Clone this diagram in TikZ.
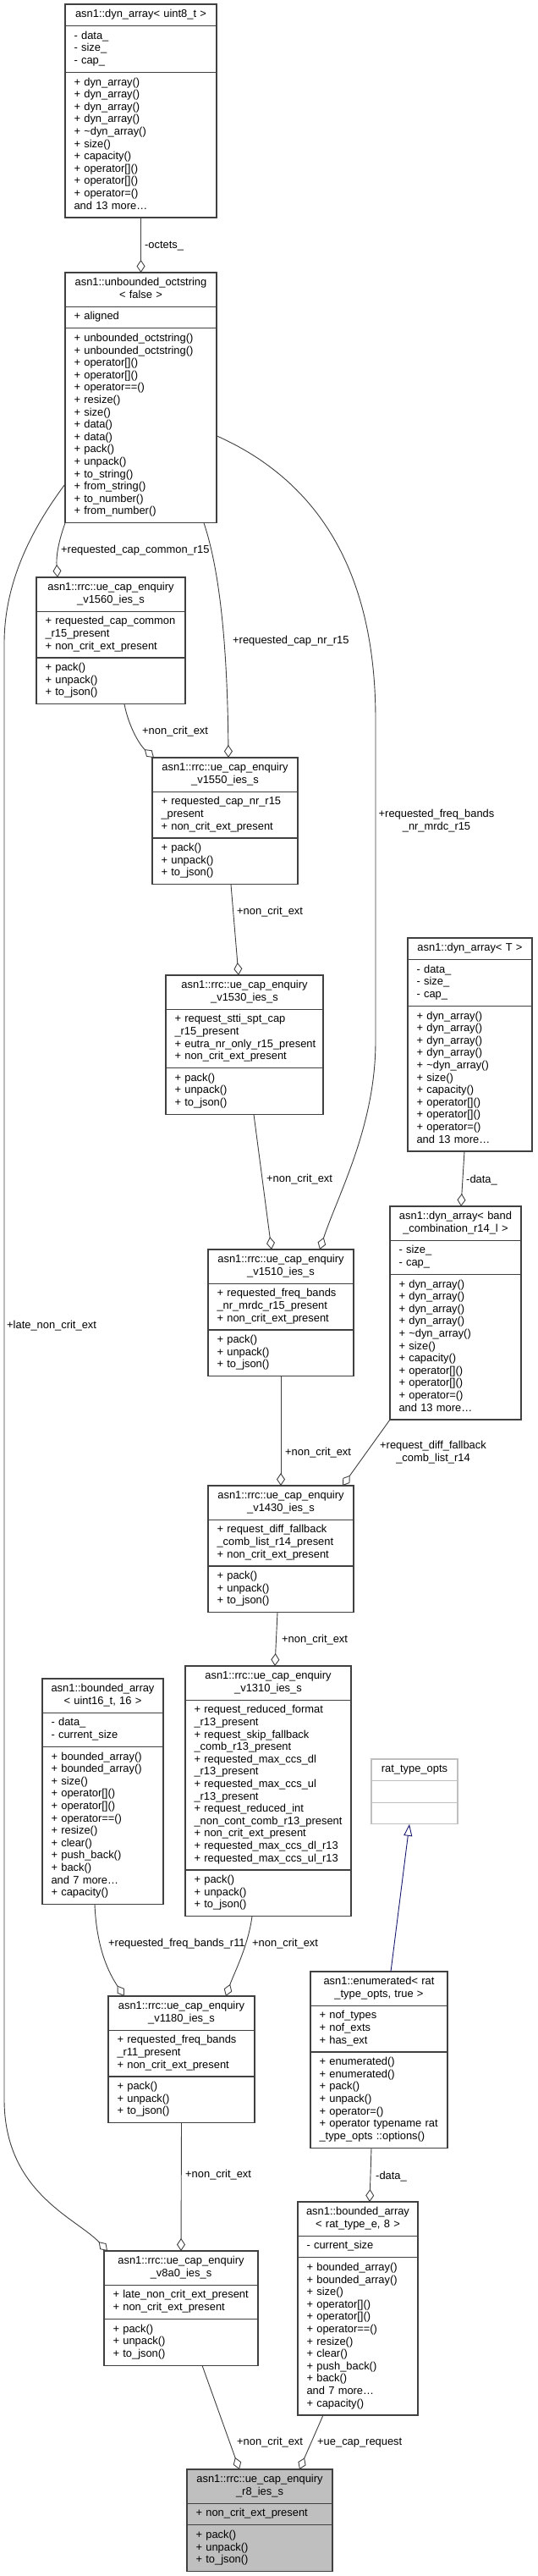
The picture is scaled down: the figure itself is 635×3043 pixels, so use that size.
\documentclass[tikz,border=0pt]{standalone}
\usepackage{fontspec}
\setmainfont{Liberation Sans}
\usetikzlibrary{arrows.meta}
\definecolor{edgegray}{HTML}{404040}
\definecolor{boxgray}{HTML}{BFBFBF}
\definecolor{ratgray}{HTML}{BFBFBF}
\definecolor{midblue}{HTML}{191970}
\newcommand{\fsz}{\fontsize{12.9}{14.6}\selectfont\hyphenpenalty=10000\exhyphenpenalty=10000\hbadness=10000\hfuzz=20pt}
\tikzset{
  clsbox/.style={draw=edgegray, line width=1.1pt, fill=white, rectangle, anchor=north west,
    outer sep=0pt, inner xsep=10.5pt, inner ysep=5.5pt, font=\fsz,
    execute at begin node=\strut, execute at end node=\strut},
  aggr/.style={draw=edgegray, line width=0.9pt, -{Diamond[open, length=15pt, width=10pt]}},
  inherit/.style={draw=midblue, line width=0.9pt, -{Triangle[open, length=14pt, width=10pt]}},
  lbl/.style={font=\fsz, inner sep=0pt, anchor=base west},
  lblc/.style={font=\fsz, inner sep=0pt, anchor=center, align=center},
}
\newcommand{\umlclass}[8][]{%
  \pgfmathsetlengthmacro{\umltw}{#5-10}%
  \pgfmathsetlengthmacro{\umlbw}{#5-21}%
  \node[clsbox, #1, inner xsep=5pt, align=center, text width=\umltw] (#2) at (#3,#4) {#6};
  \node[clsbox, #1, align=left, text width=\umlbw] (#2a) at (#2.south west) {#7};
  \node[clsbox, #1, align=left, text width=\umlbw] (#2m) at (#2a.south west) {#8};
}
\begin{document}
\begin{tikzpicture}[x=1pt,y=-1pt]
\useasboundingbox (0,0) rectangle (635,3043);
\fill[white] (0,0) rectangle (635,3043);

% classes
\umlclass{dyn8}{77}{5}{179}{asn1::dyn\_array<~uint8\_t~>}
 {-~data\_\\-~size\_\\-~cap\_}
 {+~dyn\_array()\\+~dyn\_array()\\+~dyn\_array()\\+~dyn\_array()\\+~\textasciitilde dyn\_array()\\+~size()\\+~capacity()\\+~operator[]()\\+~operator[]()\\+~operator=()\\and~13~more…}

\umlclass{oct}{77}{322}{179}{asn1::unbounded\_octstring\\<~false~>}
 {+~aligned}
 {+~unbounded\_octstring()\\+~unbounded\_octstring()\\+~operator[]()\\+~operator[]()\\+~operator==()\\+~resize()\\+~size()\\+~data()\\+~data()\\+~pack()\\+~unpack()\\+~to\_string()\\+~from\_string()\\+~to\_number()\\+~from\_number()}

\umlclass{vA}{43}{682}{176}{asn1::rrc::ue\_cap\_enquiry\\\_v1560\_ies\_s}
 {+~requested\_cap\_common\\\_r15\_present\\+~non\_crit\_ext\_present}
 {+~pack()\\+~unpack()\\+~to\_json()}

\umlclass{vB}{180}{895}{172}{asn1::rrc::ue\_cap\_enquiry\\\_v1550\_ies\_s}
 {+~requested\_cap\_nr\_r15\\\_present\\+~non\_crit\_ext\_present}
 {+~pack()\\+~unpack()\\+~to\_json()}

\umlclass{vC}{196}{1152}{186}{asn1::rrc::ue\_cap\_enquiry\\\_v1530\_ies\_s}
 {+~request\_stti\_spt\_cap\\\_r15\_present\\+~eutra\_nr\_only\_r15\_present\\+~non\_crit\_ext\_present}
 {+~pack()\\+~unpack()\\+~to\_json()}

\umlclass{vD}{246}{1476}{172}{asn1::rrc::ue\_cap\_enquiry\\\_v1510\_ies\_s}
 {+~requested\_freq\_bands\\\_nr\_mrdc\_r15\_present\\+~non\_crit\_ext\_present}
 {+~pack()\\+~unpack()\\+~to\_json()}

\umlclass{dynT}{482}{1108}{147}{asn1::dyn\_array<~T~>}
 {-~data\_\\-~size\_\\-~cap\_}
 {+~dyn\_array()\\+~dyn\_array()\\+~dyn\_array()\\+~dyn\_array()\\+~\textasciitilde dyn\_array()\\+~size()\\+~capacity()\\+~operator[]()\\+~operator[]()\\+~operator=()\\and~13~more…}

\umlclass{dynB}{461}{1425}{155}{asn1::dyn\_array<~band\\\_combination\_r14\_l~>}
 {-~size\_\\-~cap\_}
 {+~dyn\_array()\\+~dyn\_array()\\+~dyn\_array()\\+~dyn\_array()\\+~\textasciitilde dyn\_array()\\+~size()\\+~capacity()\\+~operator[]()\\+~operator[]()\\+~operator=()\\and~13~more…}

\umlclass{vE}{246}{1755}{172}{asn1::rrc::ue\_cap\_enquiry\\\_v1430\_ies\_s}
 {+~request\_diff\_fallback\\\_comb\_list\_r14\_present\\+~non\_crit\_ext\_present}
 {+~pack()\\+~unpack()\\+~to\_json()}

\umlclass{vF}{219}{1968}{196}{asn1::rrc::ue\_cap\_enquiry\\\_v1310\_ies\_s}
 {+~request\_reduced\_format\\\_r13\_present\\+~request\_skip\_fallback\\\_comb\_r13\_present\\+~requested\_max\_ccs\_dl\\\_r13\_present\\+~requested\_max\_ccs\_ul\\\_r13\_present\\+~request\_reduced\_int\\\_non\_cont\_comb\_r13\_present\\+~non\_crit\_ext\_present\\+~requested\_max\_ccs\_dl\_r13\\+~requested\_max\_ccs\_ul\_r13}
 {+~pack()\\+~unpack()\\+~to\_json()}

\umlclass{bA}{50}{1983}{143}{asn1::bounded\_array\\<~uint16\_t,~16~>}
 {-~data\_\\-~current\_size}
 {+~bounded\_array()\\+~bounded\_array()\\+~size()\\+~operator[]()\\+~operator[]()\\+~operator==()\\+~resize()\\+~clear()\\+~push\_back()\\+~back()\\and~7~more…\\+~capacity()}

\umlclass[draw=ratgray]{rat}{439}{2078}{102}{rat\_type\_opts}{}{}

\umlclass{vG}{128}{2358}{173}{asn1::rrc::ue\_cap\_enquiry\\\_v1180\_ies\_s}
 {+~requested\_freq\_bands\\\_r11\_present\\+~non\_crit\_ext\_present}
 {+~pack()\\+~unpack()\\+~to\_json()}

\umlclass{en}{367}{2329}{162}{asn1::enumerated<~rat\\\_type\_opts,~true~>}
 {+~nof\_types\\+~nof\_exts\\+~has\_ext}
 {+~enumerated()\\+~enumerated()\\+~pack()\\+~unpack()\\+~operator=()\\+~operator~typename~rat\\\_type\_opts~::options()}

\umlclass{bB}{352}{2601}{142}{asn1::bounded\_array\\<~rat\_type\_e,~8~>}
 {-~current\_size}
 {+~bounded\_array()\\+~bounded\_array()\\+~size()\\+~operator[]()\\+~operator[]()\\+~operator==()\\+~resize()\\+~clear()\\+~push\_back()\\+~back()\\and~7~more…\\+~capacity()}

\umlclass{vH}{123}{2659}{182}{asn1::rrc::ue\_cap\_enquiry\\\_v8a0\_ies\_s}
 {+~late\_non\_crit\_ext\_present\\+~non\_crit\_ext\_present}
 {+~pack()\\+~unpack()\\+~to\_json()}

\umlclass[fill=boxgray]{r8}{221}{2917}{172}{asn1::rrc::ue\_cap\_enquiry\\\_r8\_ies\_s}
 {+~non\_crit\_ext\_present}
 {+~pack()\\+~unpack()\\+~to\_json()}

% connectors
\draw[aggr] ([xshift=89.5pt]dyn8m.south west) -- ([xshift=89.5pt]oct.north west);
\draw[aggr] (octm.south west) .. controls (72,632) and (66,652) .. ([xshift=25pt]vA.north west);
\draw[aggr] ([xshift=164pt]octm.south west) .. controls (262,680) and (269,780) .. ([xshift=90pt]vB.north west);
\draw[aggr] ([xshift=104pt]vAm.south west) .. controls (152,858) and (165,880) .. ([xshift=2pt]vB.north west);
\draw[aggr] ([xshift=93pt]vBm.south west) -- ([xshift=86pt]vC.north west);
\draw[aggr] ([xshift=104pt]vCm.south west) -- ([xshift=75pt]vD.north west);
\draw[aggr] ([yshift=-12pt]octm.east) .. controls (380,570) and (444,680) .. (444,850)
   -- (444,1230) .. controls (444,1330) and (400,1410) .. ([xshift=132pt]vD.north west);
\draw[aggr] ([xshift=67pt]dynTm.south west) -- ([xshift=84pt]dynB.north west);
\draw[aggr] (vDm.south) -- (vE.north);
\draw[aggr] (dynBm.south west) -- ([xshift=159pt]vE.north west);
\draw[aggr] ([xshift=82pt]vEm.south west) -- ([xshift=106pt]vF.north west);
\draw[aggr] ([xshift=79pt]vFm.south west) .. controls (293,2300) and (277,2330) .. ([xshift=139pt]vG.north west);
\draw[aggr] ([xshift=62pt]bAm.south west) .. controls (114,2300) and (128,2330) .. ([xshift=19pt]vG.north west);
\draw[aggr] (vGm.south) -- (vH.north);
\draw[aggr] ([yshift=-69pt]octm.west) .. controls (45,615) and (5,680) .. (5,760)
   -- (5,2480) .. controls (5,2590) and (90,2620) .. ([xshift=4pt]vH.north west);
\draw[aggr] ([xshift=30pt]bBm.south west) -- ([xshift=133pt]r8.north west);
\draw[aggr] ([xshift=116pt]vHm.south west) -- ([xshift=62pt]r8.north west);
\draw[aggr] ([xshift=72pt]enm.south west) -- ([xshift=85pt]bB.north west);
\draw[inherit] ([xshift=95pt]en.north west) -- ([xshift=45pt]ratm.south west);

% labels
\node[lbl] (l1) at (171,293.5) {-octets\_};
\node[lbl] (l2) at (72,653.5) {+requested\_cap\_common\_r15};
\node[lbl] (l3) at (275,760.5) {+requested\_cap\_nr\_r15};
\node[lbl] (l4) at (168,867) {+non\_crit\_ext};
\node[lbl] (l5) at (280,1080.5) {+non\_crit\_ext};
\node[lbl] (l6) at (315,1396.5) {+non\_crit\_ext};
\node[lblc] (l7) at (516,969.5) {+requested\_freq\_bands\\\_nr\_mrdc\_r15};
\node[lbl] (l8) at (551,1397.5) {-data\_};
\node[lbl] (l9) at (337,1719.5) {+non\_crit\_ext};
\node[lblc] (l10) at (512,1715.5) {+request\_diff\_fallback\\\_comb\_list\_r14};
\node[lbl] (l11) at (333,1940.5) {+non\_crit\_ext};
\node[lbl] (l12) at (298,2299.5) {+non\_crit\_ext};
\node[lbl] (l13) at (128,2299.5) {+requested\_freq\_bands\_r11};
\node[lbl] (l14) at (219,2572.5) {+non\_crit\_ext};
\node[lbl] (l15) at (8,1569.5) {+late\_non\_crit\_ext};
\node[lbl] (l16) at (375,2888.5) {+ue\_cap\_request};
\node[lbl] (l17) at (280,2888.5) {+non\_crit\_ext};
\node[lbl] (l18) at (444,2574.5) {-data\_};
\end{tikzpicture}
\end{document}
